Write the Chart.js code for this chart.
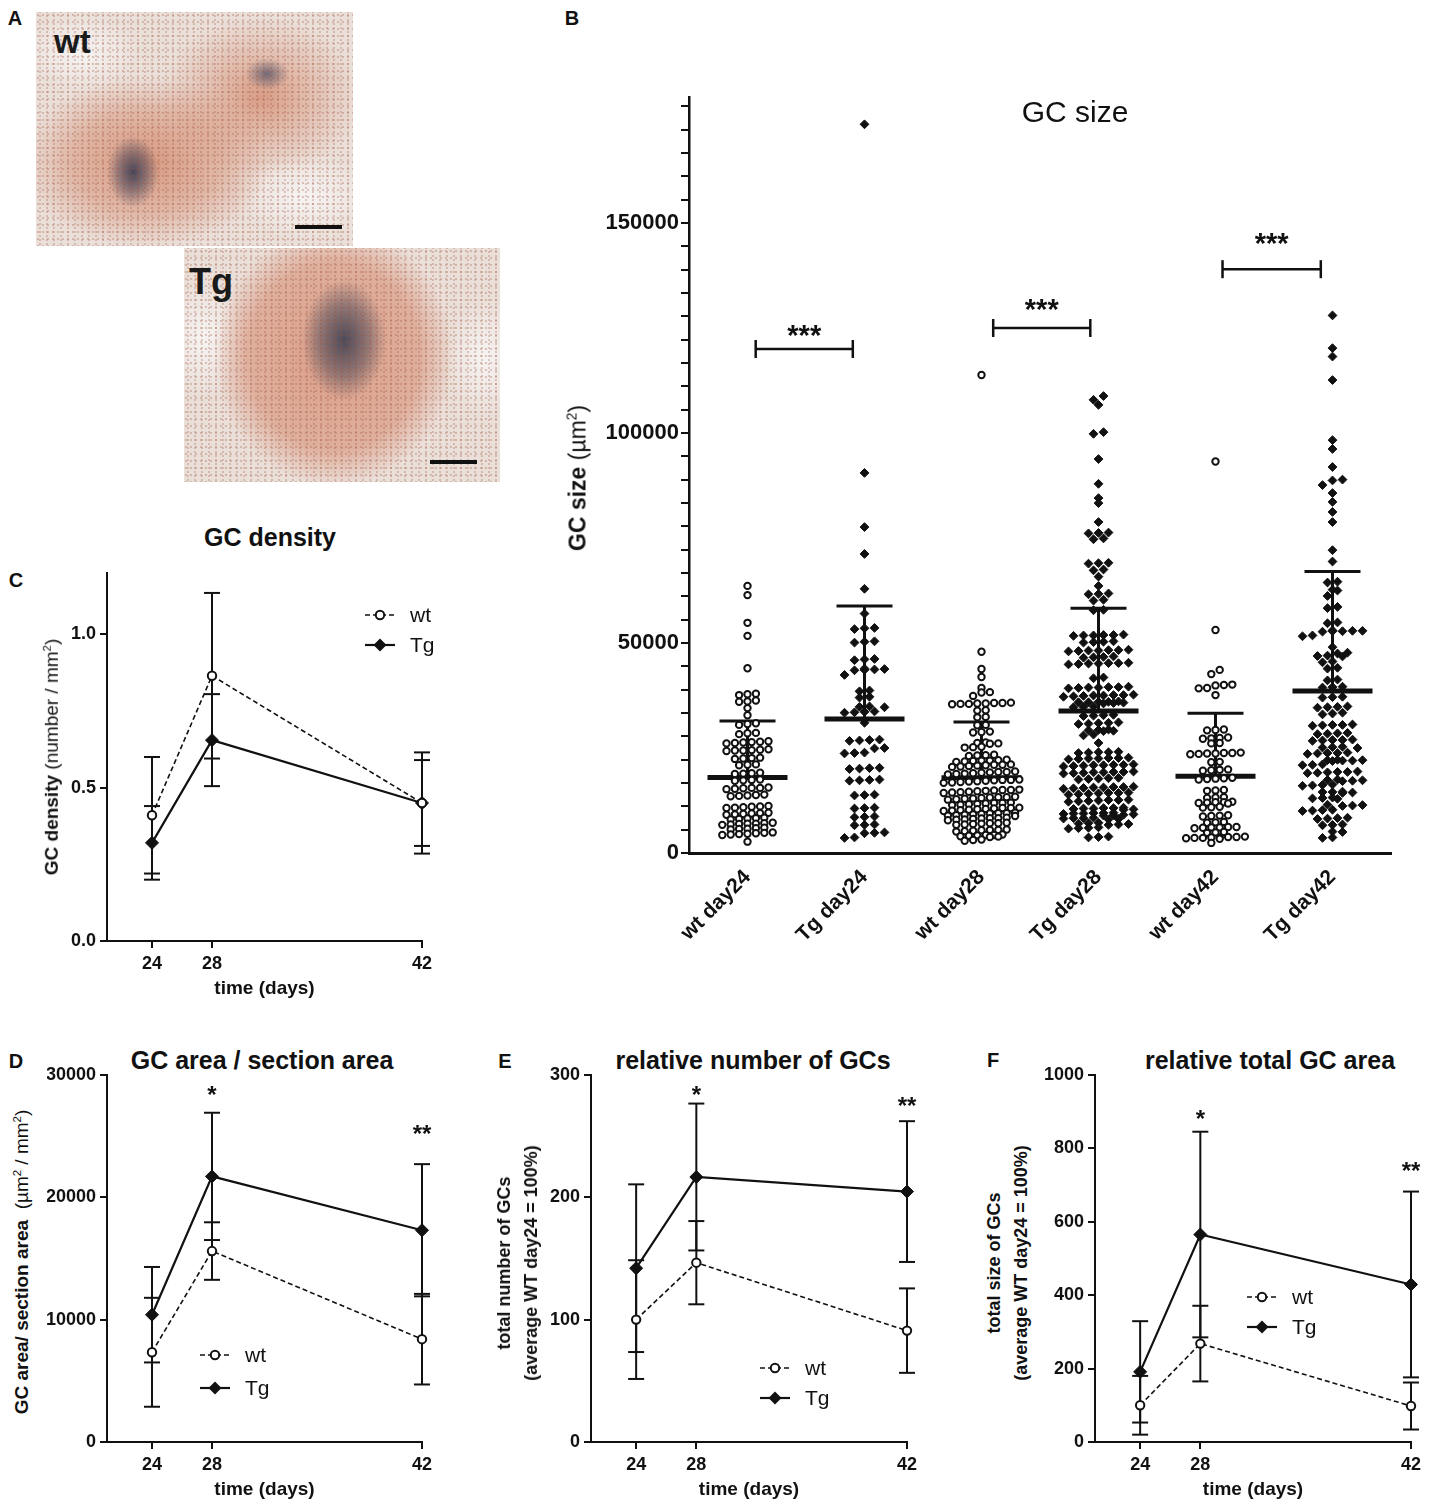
<!DOCTYPE html>
<html>
<head>
<meta charset="utf-8">
<title>GC size and density</title>
<script src="https://cdn.jsdelivr.net/npm/chart.js@4.4.1/dist/chart.umd.min.js"></script>
<style>
  html, body { margin: 0; padding: 0; background: #fff; }
  body { position: relative; width: 1431px; height: 1511px; overflow: hidden;
         font-family: "Liberation Sans", Arial, sans-serif; color: #111; }
  canvas { position: absolute; }
  .letter { position: absolute; font-weight: bold; font-size: 20px; transform: translate(-50%, -50%); }
  .title { position: absolute; font-weight: bold; font-size: 25px; white-space: nowrap; transform: translate(-50%, -50%); }
  .ytitle { position: absolute; white-space: nowrap; text-align: center; transform: translate(-50%, -50%) rotate(-90deg); }
  .ytitle sup { font-size: 60%; }
  .photo { position: absolute; overflow: hidden; }
  .photo span { position: absolute; font-weight: bold; color: #1a1a1a; line-height: 1; }
  .photo i { position: absolute; height: 4px; background: #111; }
  #photoWt {
    left: 36px; top: 12px; width: 317px; height: 234px;
    background:
      radial-gradient(circle at 2px 3px, rgba(165,85,60,.30) 1px, rgba(165,85,60,0) 1.6px) 0 0 / 5px 7px,
      radial-gradient(circle at 3px 2px, rgba(150,70,50,.25) 0.8px, rgba(150,70,50,0) 1.4px) 1px 2px / 7px 4px,
      radial-gradient(ellipse 26px 36px at 97px 160px, rgba(55,60,85,.9), rgba(55,60,85,.45) 55%, rgba(55,60,85,0) 100%),
      radial-gradient(ellipse 22px 16px at 231px 62px, rgba(70,75,100,.7), rgba(70,75,100,0) 100%),
      radial-gradient(ellipse 125px 85px at 110px 150px, rgba(215,150,125,.95), rgba(215,150,125,.55) 60%, rgba(215,150,125,0) 100%),
      radial-gradient(ellipse 100px 80px at 225px 85px, rgba(215,150,125,.9), rgba(215,150,125,0) 100%),
      radial-gradient(ellipse 70px 45px at 270px 185px, rgba(246,244,243,1), rgba(246,244,243,0) 100%),
      radial-gradient(ellipse 60px 40px at 45px 40px, rgba(246,244,243,1), rgba(246,244,243,0) 100%),
      #eadfd9;
  }
  #photoTg {
    left: 184px; top: 248px; width: 316px; height: 234px;
    background:
      radial-gradient(circle at 2px 3px, rgba(165,85,60,.30) 1px, rgba(165,85,60,0) 1.6px) 0 0 / 5px 7px,
      radial-gradient(circle at 3px 2px, rgba(150,70,50,.25) 0.8px, rgba(150,70,50,0) 1.4px) 1px 2px / 7px 4px,
      radial-gradient(ellipse 42px 60px at 160px 92px, rgba(60,65,85,.9), rgba(60,65,85,.45) 60%, rgba(60,65,85,0) 100%),
      radial-gradient(ellipse 120px 130px at 150px 108px, rgba(218,155,132,.95), rgba(218,155,132,.7) 72%, rgba(218,155,132,0) 100%),
      radial-gradient(ellipse 40px 60px at 20px 90px, rgba(246,244,243,1), rgba(246,244,243,0) 100%),
      radial-gradient(ellipse 40px 60px at 300px 110px, rgba(246,244,243,1), rgba(246,244,243,0) 100%),
      #eadfd9;
  }
</style>
</head>
<body>

<div class="letter" style="left:15px;top:18px">A</div>
<div class="photo" id="photoWt"><span style="left:18px;top:13px;font-size:33px">wt</span><i style="left:259px;top:213px;width:47px"></i></div>
<div class="photo" id="photoTg"><span style="left:5px;top:16px;font-size:36px">Tg</span><i style="left:246px;top:212px;width:47px"></i></div>

<div class="letter" style="left:572px;top:18px">B</div>
<canvas id="sizeChart" width="815" height="880" style="left:590px;top:80px"></canvas>
<div class="title" style="left:1075px;top:112px;font-weight:normal;font-size:30px">GC size</div>
<div class="ytitle" style="left:578px;top:478px;font-size:23px"><b>GC size</b> (µm<sup>2</sup>)</div>

<div class="letter" style="left:16px;top:580px">C</div>
<div class="title" style="left:270px;top:537px">GC density</div>
<canvas id="densityChart" width="395" height="445" style="left:47px;top:555px"></canvas>
<div class="ytitle" style="left:52px;top:757px;font-size:19px"><b>GC density</b> (number / mm<sup>2</sup>)</div>

<div class="letter" style="left:16px;top:1061px">D</div>
<div class="title" style="left:262px;top:1060px">GC area / section area</div>
<canvas id="areaChart" width="395" height="441" style="left:47px;top:1060px"></canvas>
<div class="ytitle" style="left:22px;top:1262px;font-size:19px"><b>GC area/ section area</b>&nbsp; (µm<sup>2</sup> / mm<sup>2</sup>)</div>

<div class="letter" style="left:505px;top:1061px">E</div>
<div class="title" style="left:753px;top:1060px">relative number of GCs</div>
<canvas id="numberChart" width="396" height="441" style="left:531px;top:1060px"></canvas>
<div class="ytitle" style="left:518px;top:1263px;font-size:18px;font-weight:bold;line-height:27px">total number of GCs<br>(average WT day24 = 100%)</div>

<div class="letter" style="left:993px;top:1060px">F</div>
<div class="title" style="left:1270px;top:1060px">relative total GC area</div>
<canvas id="totalChart" width="396" height="441" style="left:1035px;top:1060px"></canvas>
<div class="ytitle" style="left:1008px;top:1263px;font-size:18px;font-weight:bold;line-height:27px">total size of GCs<br>(average WT day24 = 100%)</div>

<script>
// ---- panel B: single GC sizes, in thousands of µm² ----
const gcGroups = ['wt day24', 'Tg day24', 'wt day28', 'Tg day28', 'wt day42', 'Tg day42'];

const wtDay24 = [63.6, 61.4, 54.8, 51.7, 44.0, 37.9, 37.8, 37.6, 36.3, 36.1, 36.0, 34.5, 32.8, 30.9, 30.7, 30.5,
  28.6, 28.5, 28.3, 26.6, 26.5, 26.4, 26.3, 26.2, 26.1, 24.7, 24.6, 24.5, 24.4, 24.4, 24.3, 22.7, 22.6, 22.5, 22.4,
  21.1, 21.0, 20.9, 19.1, 19.0, 18.9, 18.8, 17.5, 17.4, 17.3, 17.2, 15.6, 15.5, 15.5, 15.4, 15.3, 15.2, 13.9, 13.8,
  13.7, 13.6, 13.5, 11.2, 11.1, 11.0, 10.9, 10.8, 10.7, 9.6, 9.5, 9.4, 9.3, 9.2, 9.1, 8.4, 8.3, 8.2, 8.1, 8.0, 7.2,
  7.1, 7.0, 7.0, 6.9, 6.8, 6.7, 6.0, 5.9, 5.8, 5.7, 5.6, 4.9, 4.8, 4.7, 4.6, 4.5, 4.4, 4.3, 2.7];
const tgDay24 = [173.5, 90.5, 77.6, 71.2, 62.9, 57.0, 53.6, 53.5, 53.3, 50.4, 50.3, 50.1, 46.2, 46.1, 45.9, 43.9,
  43.8, 43.7, 43.6, 43.5, 42.4, 38.7, 38.5, 37.2, 37.0, 34.9, 34.8, 34.7, 33.7, 33.6, 33.5, 33.4, 31.0, 27.0, 26.9,
  26.8, 26.7, 25.0, 24.9, 23.9, 23.8, 23.7, 20.3, 20.2, 20.1, 20.0, 17.5, 17.4, 17.3, 17.2, 13.9, 13.8, 13.7, 10.8,
  10.7, 10.6, 8.7, 8.6, 8.5, 6.8, 6.7, 6.6, 4.9, 4.8, 4.7, 3.7, 3.6];
const wtDay28 = [113.8, 47.9, 43.8, 41.9, 39.3, 38.3, 38.2, 37.4, 35.8, 35.7, 35.7, 35.6, 35.6, 35.5, 35.5, 35.4,
  34.0, 33.9, 32.4, 32.3, 30.5, 30.4, 28.9, 28.8, 28.7, 26.3, 26.2, 26.1, 26.0, 25.3, 25.2, 25.1, 23.4, 23.3, 23.2,
  23.1, 22.2, 22.1, 22.0, 22.0, 21.9, 21.8, 21.7, 21.1, 21.0, 21.0, 20.9, 20.8, 20.7, 20.6, 20.5, 19.4, 19.3, 19.3,
  19.2, 19.1, 19.0, 18.9, 18.8, 18.7, 17.5, 17.4, 17.4, 17.3, 17.2, 17.1, 17.0, 16.9, 16.8, 16.7, 15.1, 15.0, 15.0,
  14.9, 14.8, 14.7, 14.6, 14.5, 14.4, 14.3, 13.4, 13.3, 13.3, 13.2, 13.1, 13.0, 12.9, 12.8, 12.7, 12.0, 11.9, 11.9,
  11.8, 11.7, 11.6, 11.5, 11.4, 10.8, 10.7, 10.7, 10.6, 10.5, 10.4, 10.3, 10.2, 10.1, 10.0, 9.6, 9.5, 9.5, 9.4, 9.3,
  9.2, 9.1, 9.0, 8.9, 8.8, 8.4, 8.3, 8.3, 8.2, 8.1, 8.0, 7.9, 7.8, 7.2, 7.1, 7.1, 7.0, 6.9, 6.8, 6.7, 5.6, 5.5, 5.5,
  5.4, 5.3, 5.2, 5.1, 4.4, 4.3, 4.3, 4.2, 4.1, 4.0, 3.9, 3.8, 3.2, 3.1, 2.9];
const tgDay28 = [108.8, 107.9, 106.7, 100.2, 99.8, 93.8, 87.9, 84.5, 83.3, 78.8, 76.3, 76.2, 76.1, 74.9, 74.7,
  69.1, 69.0, 68.9, 67.5, 67.3, 65.8, 63.6, 61.8, 61.7, 61.6, 60.3, 60.1, 57.9, 57.8, 52.0, 51.9, 51.9, 51.8, 51.8,
  51.7, 50.4, 50.3, 50.2, 50.1, 48.4, 48.3, 48.3, 48.2, 48.2, 48.1, 48.0, 46.8, 46.7, 46.6, 46.5, 45.3, 45.2, 45.2,
  45.1, 45.1, 45.0, 44.9, 41.8, 41.6, 39.6, 39.5, 39.5, 39.4, 39.4, 39.3, 39.2, 37.7, 37.6, 37.6, 37.5, 37.5, 37.4,
  37.3, 37.2, 36.1, 36.0, 36.0, 35.9, 35.9, 35.8, 35.7, 35.6, 34.9, 34.8, 34.7, 32.9, 32.8, 32.7, 32.6, 31.1, 31.0,
  30.9, 30.8, 30.7, 29.4, 29.3, 29.2, 29.1, 29.0, 28.2, 28.0, 26.2, 24.1, 24.0, 24.0, 23.9, 23.8, 22.7, 22.6, 22.6,
  22.5, 22.5, 22.4, 22.3, 21.1, 21.0, 21.0, 20.9, 20.9, 20.8, 20.7, 20.6, 19.4, 19.3, 19.3, 19.2, 19.2, 19.1, 19.0,
  18.9, 17.9, 17.8, 17.7, 17.6, 17.5, 15.8, 15.7, 15.7, 15.6, 15.6, 15.5, 15.4, 15.3, 14.4, 14.3, 14.3, 14.2, 14.1,
  14.0, 13.9, 12.7, 12.6, 12.6, 12.5, 12.4, 12.3, 12.2, 10.8, 10.7, 10.7, 10.6, 10.6, 10.5, 10.4, 10.3, 9.6, 9.5,
  9.5, 9.4, 9.4, 9.3, 9.2, 9.1, 9.0, 8.9, 8.4, 8.3, 8.3, 8.2, 8.1, 8.0, 7.2, 7.1, 7.0, 6.9, 6.8, 6.7, 6.1, 6.0, 5.9,
  5.8, 3.9, 3.8, 3.7];
const wtDay42 = [93.2, 53.1, 43.6, 42.6, 40.1, 40.0, 39.9, 39.3, 39.2, 37.6, 29.4, 29.3, 29.2, 27.5, 27.4, 27.3,
  27.2, 26.2, 26.1, 23.9, 23.8, 23.8, 23.7, 23.7, 23.6, 23.5, 21.7, 21.6, 19.9, 19.8, 19.7, 19.6, 17.9, 17.8, 17.7,
  17.6, 17.5, 15.0, 14.9, 14.8, 13.3, 13.2, 13.1, 12.2, 12.1, 12.1, 12.0, 11.9, 11.8, 11.0, 10.9, 10.8, 9.0, 8.9,
  8.8, 8.7, 7.4, 7.3, 7.2, 6.2, 6.2, 6.1, 6.1, 6.0, 5.9, 5.0, 4.9, 4.8, 3.9, 3.8, 3.8, 3.7, 3.7, 3.6, 3.6, 3.5, 3.4, 2.4];
const tgDay42 = [128.0, 120.2, 118.2, 112.6, 98.3, 96.2, 91.9, 88.9, 88.7, 87.6, 85.7, 83.6, 81.2, 78.8, 72.1,
  69.4, 64.6, 64.4, 62.7, 62.5, 61.2, 58.6, 58.3, 54.9, 54.7, 53.0, 52.9, 52.9, 52.8, 52.8, 52.7, 51.8, 51.6, 49.0,
  47.7, 47.5, 47.0, 46.9, 46.8, 45.6, 45.4, 44.1, 43.9, 41.3, 41.1, 39.6, 39.5, 39.4, 37.2, 37.1, 37.0, 34.9, 34.8,
  34.7, 34.6, 33.4, 33.2, 33.0, 30.6, 30.5, 30.5, 30.4, 30.3, 28.6, 28.5, 28.4, 28.3, 27.0, 26.9, 26.9, 26.8, 26.7,
  25.3, 25.2, 25.1, 25.0, 23.9, 23.8, 23.8, 23.7, 23.6, 22.2, 22.1, 22.1, 22.0, 22.0, 21.9, 21.1, 21.0, 20.9, 19.4,
  19.3, 19.3, 19.2, 19.1, 19.0, 17.5, 17.4, 17.3, 17.2, 17.1, 16.3, 16.2, 16.1, 16.0, 14.6, 14.5, 14.5, 14.4, 14.3,
  13.2, 13.1, 13.0, 12.9, 11.5, 11.4, 11.3, 11.2, 10.3, 10.2, 10.1, 10.0, 8.4, 8.3, 8.2, 8.1, 6.8, 6.7, 6.6, 5.1,
  5.0, 3.7, 3.6];
const gcValues = [wtDay24, tgDay24, wtDay28, tgDay28, wtDay42, tgDay42];
const gcMeans = [18.0, 31.9, 17.9, 33.8, 18.3, 38.6];
const gcSD = [13.4, 26.9, 13.3, 24.5, 15.0, 28.4];
const sizeLabelTicks = [0, 50000, 100000, 150000];

// significance brackets (x in group index units, level in thousands)
const bracketFrom = [0.07, 2.1, 4.06];
const bracketTo = [0.9, 2.93, 4.9];
const bracketLevel = [120, 125, 139];
const bracketStarLevel = [124.8, 131, 146.7];

// ---- panels C-F: means and SD per time point ----
const days = [24, 28, 42];

const densityWt = [0.41, 0.865, 0.45];
const densityWtSd = [0.19, 0.27, 0.165];
const densityTg = [0.32, 0.655, 0.45];
const densityTgSd = [0.12, 0.15, 0.14];
const densityTicks = [0, 0.5, 1.0];

const areaWt = [7330, 15600, 8400];
const areaWtSd = [4450, 2350, 3700];
const areaTg = [10400, 21700, 17300];
const areaTgSd = [3900, 5200, 5400];
const areaTicks = [0, 10000, 20000, 30000];
const areaStars = [[28, 28800, '*'], [42, 25600, '**']];

const numberWt = [100, 146.5, 91];
const numberWtSd = [48.5, 34, 34.5];
const numberTg = [142, 216.5, 204.6];
const numberTgSd = [68.5, 60, 57.5];
const numberTicks = [0, 100, 200, 300];
const numberStars = [[28, 288, '*'], [42, 279, '**']];

const totalWt = [100, 268, 98];
const totalWtSd = [80, 103, 64];
const totalTg = [191, 565, 429];
const totalTgSd = [138, 280, 253];
const totalTicks = [0, 200, 400, 600, 800, 1000];
const totalStars = [[28, 894, '*'], [42, 753, '**']];

Chart.defaults.font.family = '"Liberation Sans", Arial, sans-serif';
Chart.defaults.color = '#111';
const INK = '#111';

function line(ctx, x1, y1, x2, y2) {
  ctx.beginPath(); ctx.moveTo(x1, y1); ctx.lineTo(x2, y2); ctx.stroke();
}

// mean bar + upper SD whisker, drawn under the points (as GraphPad does)
const meanSdPlugin = {
  id: 'meanSd',
  beforeDatasetsDraw(chart, args, o) {
    const { ctx, scales: { x, y } } = chart;
    ctx.save();
    ctx.strokeStyle = INK;
    o.means.forEach((m, i) => {
      const cx = x.getPixelForValue(i);
      const ym = y.getPixelForValue(m * 1000);
      const ys = y.getPixelForValue((m + o.sd[i]) * 1000);
      ctx.lineWidth = 3;
      line(ctx, cx, ym, cx, ys);
      line(ctx, cx - 28, ys, cx + 28, ys);
      ctx.lineWidth = 5;
      line(ctx, cx - 40, ym, cx + 40, ym);
    });
    ctx.restore();
  }
};

const bracketPlugin = {
  id: 'brackets',
  afterDatasetsDraw(chart, args, o) {
    const { ctx, scales: { x, y } } = chart;
    ctx.save();
    ctx.strokeStyle = INK;
    ctx.fillStyle = INK;
    ctx.lineWidth = 2.5;
    ctx.font = 'bold 29px "Liberation Sans", Arial, sans-serif';
    ctx.textAlign = 'center';
    ctx.textBaseline = 'alphabetic';
    bracketLevel.forEach((lv, i) => {
      const x1 = x.getPixelForValue(bracketFrom[i]);
      const x2 = x.getPixelForValue(bracketTo[i]);
      const py = y.getPixelForValue(lv * 1000);
      line(ctx, x1, py, x2, py);
      line(ctx, x1, py - 9, x1, py + 9);
      line(ctx, x2, py - 9, x2, py + 9);
      const sy = y.getPixelForValue(bracketStarLevel[i] * 1000);
      ctx.fillText('***', (x1 + x2) / 2, sy + 0.57 * 29);
    });
    ctx.restore();
  }
};

const errorBarPlugin = {
  id: 'errorBars',
  beforeDatasetsDraw(chart, args, o) {
    const { ctx, scales: { y } } = chart;
    ctx.save();
    ctx.strokeStyle = INK;
    ctx.lineWidth = 2;
    chart.data.datasets.forEach((ds, d) => {
      const meta = chart.getDatasetMeta(d);
      meta.data.forEach((pt, i) => {
        const v = ds.data[i].y, s = o.sd[d][i];
        const top = y.getPixelForValue(v + s), bot = y.getPixelForValue(v - s);
        line(ctx, pt.x, top, pt.x, bot);
        line(ctx, pt.x - 8, top, pt.x + 8, top);
        line(ctx, pt.x - 8, bot, pt.x + 8, bot);
      });
    });
    ctx.restore();
  }
};

const starPlugin = {
  id: 'stars',
  afterDatasetsDraw(chart, args, o) {
    if (!o.items) return;
    const { ctx, scales: { x, y } } = chart;
    ctx.save();
    ctx.fillStyle = INK;
    ctx.font = 'bold 24px "Liberation Sans", Arial, sans-serif';
    ctx.textAlign = 'center';
    ctx.textBaseline = 'alphabetic';
    o.items.forEach(([d, v, t]) => {
      ctx.fillText(t, x.getPixelForValue(d), y.getPixelForValue(v) + 0.57 * 24);
    });
    ctx.restore();
  }
};

// small legend inside the plot, built from the datasets
const insetLegendPlugin = {
  id: 'insetLegend',
  afterDraw(chart, args, o) {
    const ctx = chart.ctx;
    ctx.save();
    chart.data.datasets.forEach((ds, i) => {
      const x0 = o.at[0], y0 = o.at[1] + i * o.gap;
      ctx.strokeStyle = INK;
      ctx.lineWidth = ds.borderWidth;
      ctx.setLineDash(ds.borderDash || []);
      line(ctx, x0, y0, x0 + 30, y0);
      ctx.setLineDash([]);
      ctx.beginPath();
      if (ds.pointStyle === 'circle') {
        ctx.arc(x0 + 15, y0, 4.2, 0, Math.PI * 2);
        ctx.fillStyle = '#fff'; ctx.fill();
        ctx.lineWidth = 2; ctx.stroke();
      } else {
        const r = 6.5;
        ctx.moveTo(x0 + 15, y0 - r); ctx.lineTo(x0 + 15 + r, y0);
        ctx.lineTo(x0 + 15, y0 + r); ctx.lineTo(x0 + 15 - r, y0); ctx.closePath();
        ctx.fillStyle = INK; ctx.fill();
      }
      ctx.fillStyle = INK;
      ctx.font = '21px "Liberation Sans", Arial, sans-serif';
      ctx.textAlign = 'left';
      ctx.textBaseline = 'middle';
      ctx.fillText(ds.label, x0 + 45, y0 + 1);
    });
    ctx.restore();
  }
};

// ---- panel B ----
const sizeChart = new Chart(document.getElementById('sizeChart'), {
  type: 'scatter',
  data: {
    datasets: gcValues.map((vals, g) => ({
      label: gcGroups[g],
      data: vals.map(v => ({ x: g, y: v * 1000 })),
      pointStyle: g % 2 ? 'rectRot' : 'circle',
      pointRadius: g % 2 ? 4.4 : 3.2,
      pointBorderWidth: g % 2 ? 1 : 2,
      pointBackgroundColor: g % 2 ? INK : '#fff',
      pointBorderColor: INK
    }))
  },
  options: {
    responsive: false,
    animation: false,
    events: [],
    layout: { padding: { top: 17, right: 14, left: 0, bottom: 0 } },
    plugins: {
      legend: { display: false },
      tooltip: { enabled: false },
      meanSd: { means: gcMeans, sd: gcSD }
    },
    scales: {
      x: {
        type: 'linear', min: -0.5, max: 5.5,
        afterBuildTicks: s => { s.ticks = gcGroups.map((c, i) => ({ value: i })); },
        ticks: {
          autoSkip: false, minRotation: 45, maxRotation: 45, padding: 4,
          font: { size: 21, weight: 'bold' }, color: INK,
          callback: v => gcGroups[Math.round(v)]
        },
        grid: { display: false },
        border: { display: true, color: INK, width: 3 },
        afterFit: s => { s.height = 107; }
      },
      y: {
        min: 0, max: 180000,
        // GraphPad put 9 minor intervals between the labelled ticks
        afterBuildTicks: s => {
          const t = [];
          for (let k = 0; k <= 32; k++) t.push({ value: Math.round(k * 50000 / 9) });
          s.ticks = t;
        },
        ticks: {
          autoSkip: false,
          font: { size: 22, weight: 'bold' }, color: INK, padding: 2,
          callback: v => sizeLabelTicks.includes(v) ? String(v) : ''
        },
        grid: { drawOnChartArea: false, tickLength: 8, color: INK, lineWidth: 2 },
        border: { color: INK, width: 2.5 },
        afterFit: s => { s.width = 99; }
      }
    }
  },
  plugins: [meanSdPlugin, bracketPlugin]
});

// column-scatter layout: points close in value share a row, rows are centred
function rowLayout(pys, rowH, gap, maxPerRow) {
  const order = pys.map((p, i) => i).sort((a, b) => pys[b] - pys[a]);
  const out = [];
  let row = [];
  const flush = () => {
    row.forEach((idx, k) => { out[idx] = (k - (row.length - 1) / 2) * gap; });
    row = [];
  };
  for (const i of order) {
    if (row.length && (pys[row[0]] - pys[i] > rowH || row.length >= maxPerRow)) flush();
    row.push(i);
  }
  flush();
  return out;
}

(function layoutColumns(chart) {
  const xs = chart.scales.x, ys = chart.scales.y;
  const unit = xs.getPixelForValue(1) - xs.getPixelForValue(0);
  const rowH = [4.5, 6, 4.5, 5, 4.5, 6];
  const gap = [8.4, 10, 8.4, 10, 8.4, 10];
  const perRow = [10, 5, 10, 8, 9, 7];
  chart.data.datasets.forEach((ds, g) => {
    const pys = gcValues[g].map(v => ys.getPixelForValue(v * 1000));
    const offs = rowLayout(pys, rowH[g], gap[g], perRow[g]);
    ds.data = gcValues[g].map((v, i) => ({ x: g + offs[i] / unit, y: v * 1000 }));
  });
  chart.update('none');
})(sizeChart);

// ---- panels C-F ----
function timeCourse(id, o) {
  return new Chart(document.getElementById(id), {
    type: 'line',
    data: {
      datasets: [
        {
          label: 'wt', data: days.map((d, i) => ({ x: d, y: o.wt[i] })),
          borderColor: INK, borderWidth: 1.6, borderDash: [5, 3],
          pointStyle: 'circle', pointRadius: 4.2, pointBorderWidth: 2,
          pointBackgroundColor: '#fff', pointBorderColor: INK, clip: false
        },
        {
          label: 'Tg', data: days.map((d, i) => ({ x: d, y: o.tg[i] })),
          borderColor: INK, borderWidth: 2.2,
          pointStyle: 'rectRot', pointRadius: 6.5, pointBorderWidth: 1,
          pointBackgroundColor: INK, pointBorderColor: INK, clip: false
        }
      ]
    },
    options: {
      responsive: false,
      animation: false,
      events: [],
      layout: { padding: { top: o.padTop, right: 20, left: 0, bottom: 0 } },
      plugins: {
        legend: { display: false },
        tooltip: { enabled: false },
        errorBars: { sd: [o.wtSd, o.tgSd] },
        stars: { items: o.stars },
        insetLegend: { at: o.legendAt, gap: o.legendGap }
      },
      scales: {
        x: {
          type: 'linear', min: 21, max: 42,
          afterBuildTicks: s => { s.ticks = days.map(v => ({ value: v })); },
          ticks: { font: { size: 18, weight: 'bold' }, color: INK, padding: 5, autoSkip: false, maxRotation: 0 },
          grid: { drawOnChartArea: false, tickLength: 7, color: INK, lineWidth: 2 },
          border: { color: INK, width: 2 },
          title: { display: true, text: 'time (days)', font: { size: 19, weight: 'bold' }, color: INK, padding: { top: 0, bottom: 0 } },
          afterFit: s => { s.height = 59; }
        },
        y: {
          min: 0, max: o.max,
          afterBuildTicks: s => { s.ticks = o.ticks.map(v => ({ value: v })); },
          ticks: { autoSkip: false, font: { size: 18, weight: 'bold' }, color: INK, padding: 4, callback: o.fmt },
          grid: { drawOnChartArea: false, tickLength: 7, color: INK, lineWidth: 2 },
          border: { color: INK, width: 2 },
          afterFit: s => { s.width = 60; }
        }
      }
    },
    plugins: [errorBarPlugin, starPlugin, insetLegendPlugin]
  });
}

timeCourse('densityChart', {
  wt: densityWt, wtSd: densityWtSd, tg: densityTg, tgSd: densityTgSd,
  max: 1.2, ticks: densityTicks, fmt: v => v.toFixed(1), padTop: 18,
  stars: null, legendAt: [318, 60], legendGap: 30
});
timeCourse('areaChart', {
  wt: areaWt, wtSd: areaWtSd, tg: areaTg, tgSd: areaTgSd,
  max: 30000, ticks: areaTicks, fmt: v => String(v), padTop: 14,
  stars: areaStars, legendAt: [153, 295], legendGap: 33
});
timeCourse('numberChart', {
  wt: numberWt, wtSd: numberWtSd, tg: numberTg, tgSd: numberTgSd,
  max: 300, ticks: numberTicks, fmt: v => String(v), padTop: 14,
  stars: numberStars, legendAt: [229, 308], legendGap: 30
});
timeCourse('totalChart', {
  wt: totalWt, wtSd: totalWtSd, tg: totalTg, tgSd: totalTgSd,
  max: 1000, ticks: totalTicks, fmt: v => String(v), padTop: 14,
  stars: totalStars, legendAt: [212, 237], legendGap: 30
});
</script>
</body>
</html>
